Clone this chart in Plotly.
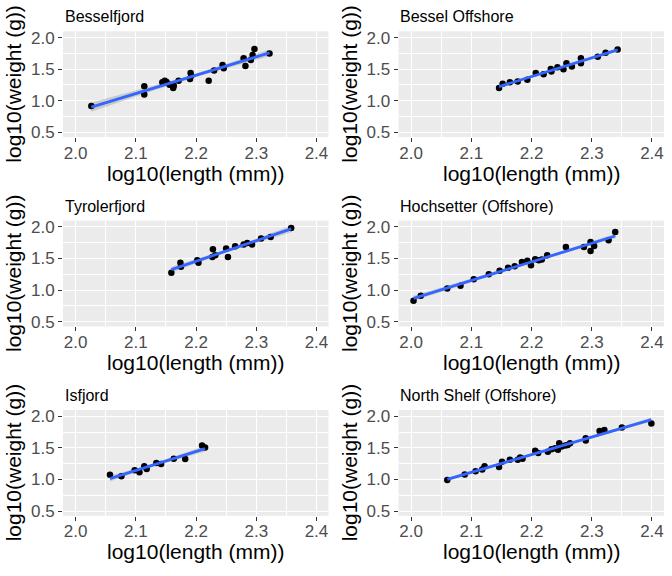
import numpy as np
import plotly.graph_objects as go

site_names = ["Besselfjord", "Bessel Offshore", "Tyrolerfjord",
              "Hochsetter (Offshore)", "Isfjord", "North Shelf (Offshore)"]

besselfjord_x = [2.026, 2.114, 2.114, 2.144, 2.148, 2.151, 2.156, 2.162, 2.163, 2.171, 2.190,
                 2.191, 2.192, 2.221, 2.230, 2.244, 2.246, 2.279, 2.282, 2.291, 2.294, 2.297, 2.322]
besselfjord_y = [0.917, 1.229, 1.099, 1.292, 1.318, 1.297, 1.255, 1.203, 1.240, 1.318, 1.344,
                 1.438, 1.396, 1.318, 1.479, 1.568, 1.516, 1.672, 1.552, 1.646, 1.724, 1.818, 1.750]

bessel_off_x = [2.146, 2.152, 2.164, 2.177, 2.193, 2.207, 2.220, 2.232, 2.233, 2.243, 2.253,
                2.258, 2.267, 2.282, 2.282, 2.310, 2.323, 2.343]
bessel_off_y = [1.203, 1.271, 1.292, 1.307, 1.333, 1.438, 1.422, 1.505, 1.464, 1.531, 1.500,
                1.594, 1.542, 1.672, 1.594, 1.698, 1.760, 1.813]

tyroler_x = [2.159, 2.174, 2.175, 2.202, 2.204, 2.228, 2.227, 2.232, 2.250, 2.253, 2.265,
             2.279, 2.285, 2.293, 2.308, 2.324, 2.358]
tyroler_y = [1.274, 1.432, 1.368, 1.474, 1.432, 1.647, 1.526, 1.553, 1.658, 1.526, 1.695,
             1.721, 1.747, 1.721, 1.816, 1.842, 1.984]

hochsetter_x = [2.004, 2.016, 2.060, 2.082, 2.104, 2.129, 2.147, 2.161, 2.172, 2.184, 2.193,
                2.199, 2.206, 2.212, 2.217, 2.226, 2.257, 2.287, 2.298, 2.298, 2.304, 2.328, 2.339]
hochsetter_y = [0.832, 0.911, 1.026, 1.068, 1.174, 1.253, 1.305, 1.353, 1.379, 1.447, 1.463,
                1.395, 1.489, 1.474, 1.484, 1.553, 1.684, 1.684, 1.763, 1.621, 1.700, 1.789, 1.921]

isfjord_x = [2.057, 2.076, 2.098, 2.106, 2.114, 2.118, 2.134, 2.142, 2.163, 2.182, 2.210, 2.215]
isfjord_y = [1.073, 1.052, 1.146, 1.115, 1.208, 1.167, 1.260, 1.245, 1.328, 1.323, 1.536, 1.505]

north_x = [2.060, 2.089, 2.107, 2.118, 2.122, 2.146, 2.151, 2.164, 2.177, 2.181, 2.185, 2.206,
           2.211, 2.227, 2.233, 2.239, 2.244, 2.246, 2.250, 2.256, 2.260, 2.264, 2.290, 2.290,
           2.313, 2.321, 2.350, 2.399]
north_y = [0.990, 1.078, 1.130, 1.156, 1.208, 1.198, 1.281, 1.313, 1.313, 1.349, 1.328, 1.453,
           1.417, 1.438, 1.479, 1.495, 1.469, 1.573, 1.521, 1.536, 1.547, 1.573, 1.615, 1.651,
           1.766, 1.781, 1.823, 1.885]

datasets = [(besselfjord_x, besselfjord_y), (bessel_off_x, bessel_off_y),
            (tyroler_x, tyroler_y), (hochsetter_x, hochsetter_y),
            (isfjord_x, isfjord_y), (north_x, north_y)]

x_ticks = [2.0, 2.1, 2.2, 2.3, 2.4]
y_ticks = [0.5, 1.0, 1.5, 2.0]
x_title = "log10(length (mm))"
y_title = "log10(weight (g))"

FONT = "Liberation Sans, Arial"
W, H = 672, 576
col_px = [(63, 328.5), (398.5, 664)]
row_top, row_bot = 28.7, 136.0

fig = go.Figure()
annotations = []

for i, (name, (xs, ys)) in enumerate(zip(site_names, datasets)):
    r, c = divmod(i, 2)
    xa = "x" if i == 0 else f"x{i+1}"
    ya = "y" if i == 0 else f"y{i+1}"
    xs = np.array(xs); ys = np.array(ys)
    n = len(xs)
    b1, b0 = np.polyfit(xs, ys, 1)
    xf = np.linspace(xs.min(), xs.max(), 80)
    yf = b0 + b1 * xf
    resid = ys - (b0 + b1 * xs)
    s = np.sqrt(np.sum(resid**2) / (n - 2))
    sxx = np.sum((xs - xs.mean())**2)
    se = s * np.sqrt(1 / n + (xf - xs.mean())**2 / sxx)
    tval = 2.06
    fig.add_trace(go.Scatter(x=np.concatenate([xf, xf[::-1]]),
                             y=np.concatenate([yf + tval*se, (yf - tval*se)[::-1]]),
                             fill="toself", fillcolor="rgba(153,153,153,0.4)",
                             line=dict(width=0), mode="lines", hoverinfo="skip",
                             showlegend=False, xaxis=xa, yaxis=ya))
    fig.add_trace(go.Scatter(x=xs, y=ys, mode="markers",
                             marker=dict(color="black", size=6.5),
                             showlegend=False, xaxis=xa, yaxis=ya))
    fig.add_trace(go.Scatter(x=xf, y=yf, mode="lines",
                             line=dict(color="#3366FF", width=2.8),
                             showlegend=False, xaxis=xa, yaxis=ya))

    x0, x1 = col_px[c]
    top = row_top + 192 * r
    bot = row_bot + 192 * r
    common = dict(showline=False, zeroline=False, ticks="outside", ticklen=4,
                  tickcolor="#333333", tickwidth=1,
                  tickfont=dict(family=FONT, size=17, color="#4D4D4D"),
                  gridcolor="white", gridwidth=1.1, showgrid=True)
    xkey = "xaxis" if i == 0 else f"xaxis{i+1}"
    ykey = "yaxis" if i == 0 else f"yaxis{i+1}"
    fig.update_layout(**{
        xkey: dict(domain=[x0 / W, x1 / W], anchor=ya, range=[1.979, 2.420],
                   tickvals=x_ticks, ticktext=[f"{v:.1f}" for v in x_ticks],
                   ticklabelstandoff=-4,
                   minor=dict(tickvals=[1.95, 2.05, 2.15, 2.25, 2.35], showgrid=True,
                              gridcolor="white", gridwidth=0.5, ticks=""),
                   **common),
        ykey: dict(domain=[1 - bot / H, 1 - top / H], anchor=xa, range=[0.425, 2.1],
                   tickvals=y_ticks, ticktext=[f"{v:.1f}" for v in y_ticks],
                   minor=dict(tickvals=[0.75, 1.25, 1.75], showgrid=True,
                              gridcolor="white", gridwidth=0.5, ticks=""),
                   **common),
    })
    annotations.append(dict(text=name, xref="paper", yref="paper",
                            x=x0 / W, y=1 - (14 + 192 * r) / H,
                            xanchor="left", yanchor="middle", showarrow=False,
                            font=dict(family=FONT, size=16, color="black")))
    annotations.append(dict(text=x_title, xref="paper", yref="paper",
                            x=(x0 + x1) / 2 / W, y=1 - (172.5 + 192 * r) / H,
                            xanchor="center", yanchor="middle", showarrow=False,
                            font=dict(family=FONT, size=21, color="black")))
    annotations.append(dict(text=y_title, xref="paper", yref="paper", textangle=-90,
                            x=(13.5 + 336 * c) / W, y=1 - ((top + bot) / 2) / H,
                            xanchor="center", yanchor="middle", showarrow=False,
                            font=dict(family=FONT, size=21, color="black")))

fig.update_layout(width=W, height=H, margin=dict(l=0, r=0, t=0, b=0),
                  paper_bgcolor="white", plot_bgcolor="#EBEBEB",
                  annotations=annotations, showlegend=False)

fig.write_html("out.html")
